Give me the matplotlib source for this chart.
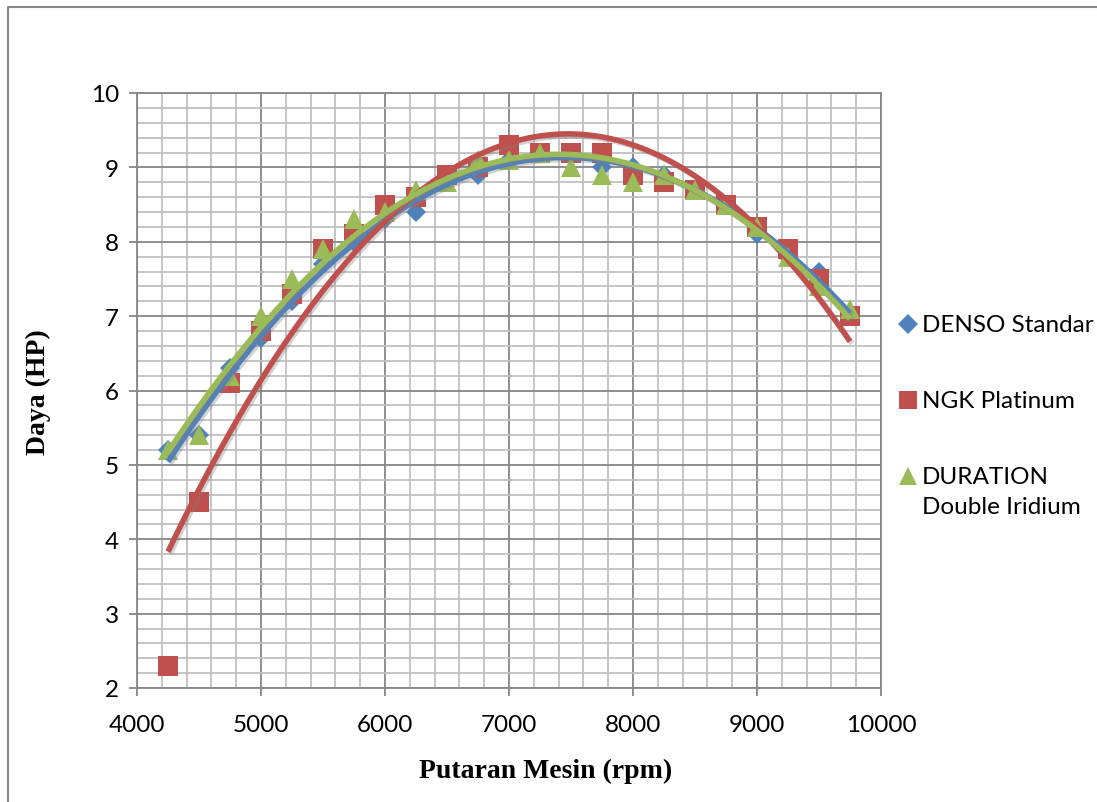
import numpy as np
import matplotlib.pyplot as plt
import matplotlib.patheffects as pe
from matplotlib.lines import Line2D
from matplotlib.ticker import MultipleLocator

rpm = [4250, 4500, 4750, 5000, 5250, 5500, 5750, 6000, 6250, 6500, 6750, 7000,
       7250, 7500, 7750, 8000, 8250, 8500, 8750, 9000, 9250, 9500, 9750]
denso = [5.2, 5.4, 6.3, 6.7, 7.2, 7.7, 8.0, 8.3, 8.4, 8.8, 8.9, 9.1,
         9.2, 9.2, 9.0, 9.0, 8.9, 8.7, 8.5, 8.1, 7.8, 7.6, 7.0]
ngk = [2.3, 4.5, 6.1, 6.8, 7.3, 7.9, 8.1, 8.5, 8.6, 8.9, 9.0, 9.3,
       9.2, 9.2, 9.2, 8.9, 8.8, 8.7, 8.5, 8.2, 7.9, 7.5, 7.0]
duration = [5.2, 5.4, 6.2, 7.0, 7.5, 7.9, 8.3, 8.4, 8.7, 8.8, 9.1, 9.1,
            9.2, 9.0, 8.9, 8.8, 8.9, 8.7, 8.5, 8.2, 7.8, 7.4, 7.1]
labels = ['DENSO Standar', 'NGK Platinum', 'DURATION\nDouble Iridium']

blue, red, green = '#4F81BD', '#C0504D', '#9BBB59'
tick_font = 'Lato'

fig = plt.figure(figsize=(10.97, 8.03), dpi=100)
ax = fig.add_axes([137/1097, 1-689/803, (881-137)/1097, (689-94)/803])

# markers
ax.plot(rpm, denso, 'D', color=blue, ms=10, mew=0, zorder=3)
ax.plot(rpm, ngk, 's', color=red, ms=14.5, mew=0, zorder=3)
ax.plot(rpm, duration, '^', color=green, ms=15, mew=0, zorder=3)

# polynomial trendlines (order 2)
xs = np.linspace(rpm[0], rpm[-1], 200)
shadow = [pe.SimpleLineShadow(offset=(1.5, -1.5), alpha=0.35, shadow_color='gray'), pe.Normal()]
for ys, c in [(denso, blue), (ngk, red), (duration, green)]:
    p = np.polyfit(rpm, ys, 2)
    ax.plot(xs, np.polyval(p, xs), color=c, lw=4, zorder=4,
            solid_capstyle='butt', path_effects=shadow)

ax.set_xlim(4000, 10000)
ax.set_ylim(2, 10)
ax.xaxis.set_major_locator(MultipleLocator(1000))
ax.xaxis.set_minor_locator(MultipleLocator(200))
ax.yaxis.set_major_locator(MultipleLocator(1))
ax.yaxis.set_minor_locator(MultipleLocator(0.2))
ax.grid(which='minor', color='#c0c0c0', lw=1.3, zorder=0)
ax.grid(which='major', color='#868686', lw=1.3, zorder=0)
ax.set_axisbelow(True)
for s in ax.spines.values():
    s.set_color('#868686')
    s.set_linewidth(1.3)
ax.tick_params(which='major', direction='out', length=6, width=1.3, color='#868686',
               labelsize=17.5, pad=7)
ax.tick_params(which='minor', length=0)
for t in ax.get_xticklabels() + ax.get_yticklabels():
    t.set_family(tick_font)
ax.tick_params(axis='x', pad=13)

fig.text(546/1097, 1-771/803, 'Putaran Mesin (rpm)', family='Liberation Serif',
         weight='bold', fontsize=20, ha='center', va='center')
fig.text(38/1097, 1-392/803, 'Daya (HP)', family='Liberation Serif',
         weight='bold', fontsize=20, ha='center', va='center', rotation=90)

# legend on the right
leg = [('D', blue, 10, 325), ('s', red, 13, 401), ('^', green, 13.5, 477)]
for (m, c, ms, y), lab in zip(leg, labels):
    fig.add_artist(Line2D([908/1097], [1-y/803], marker=m, color=c, ms=ms, mew=0,
                          transform=fig.transFigure))
    fig.text(922/1097, 1-(y-10)/803, lab, family=tick_font, fontsize=17.5,
             ha='left', va='top', linespacing=1.55)

# chart area border
fig.add_artist(Line2D([8/1097, 8/1097, 1], [0, 1-8/803, 1-8/803],
                      color='#868686', lw=1.5, transform=fig.transFigure))

fig.savefig('out.png', dpi=100)
